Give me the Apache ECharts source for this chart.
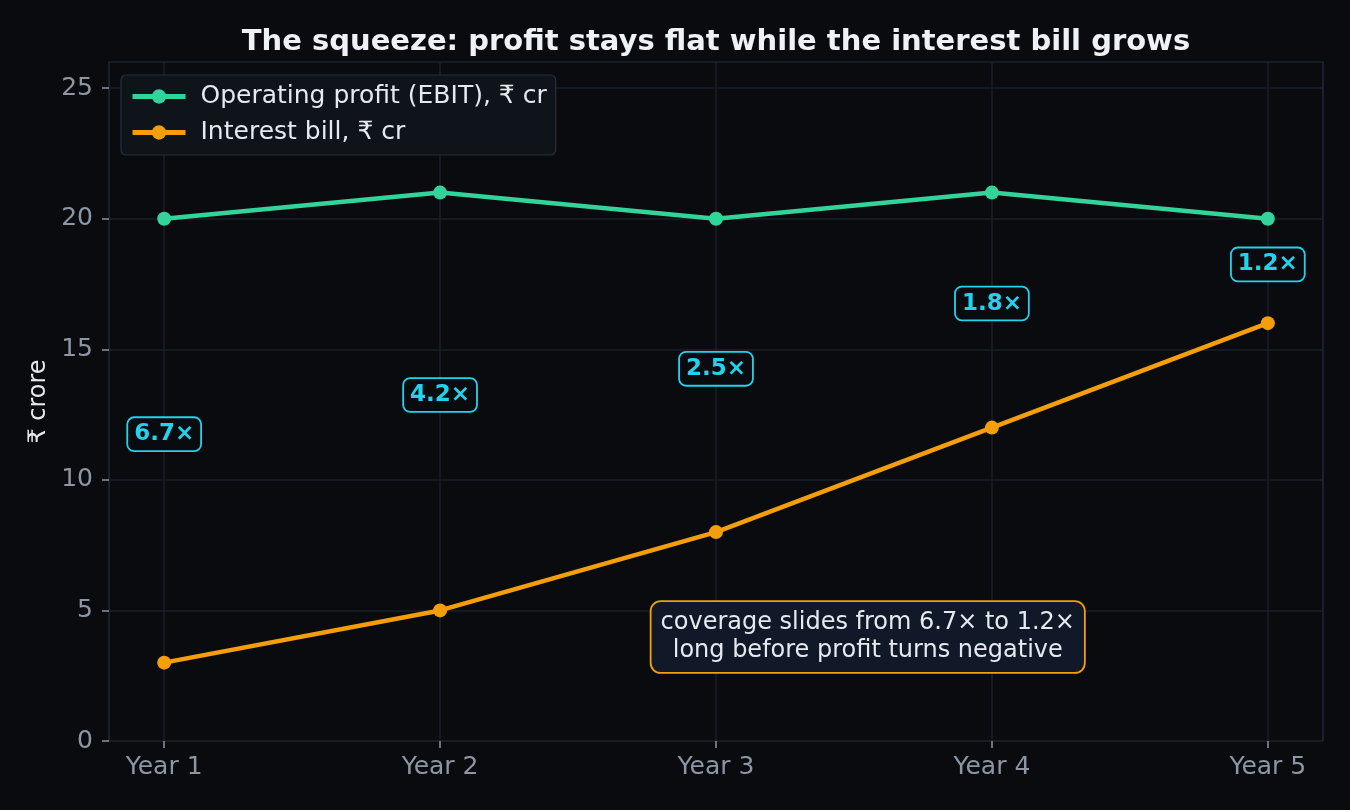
<!DOCTYPE html>
<html>
<head>
<meta charset="utf-8">
<script src="https://cdn.jsdelivr.net/npm/echarts@6/dist/echarts.min.js"></script>
<style>
  html, body { margin: 0; padding: 0; background: #0a0b0f; }
  #chart { width: 1350px; height: 810px; }
</style>
</head>
<body>
<div id="chart"></div>
<script>
// data
const years = [1, 2, 3, 4, 5];
const yearLabels = ['Year 1', 'Year 2', 'Year 3', 'Year 4', 'Year 5'];
const yTicks = [0, 5, 10, 15, 20, 25];
const ebit = [20, 21, 20, 21, 20];
const interest = [3, 5, 8, 12, 16];
const coverageLabels = ['6.7×', '4.2×', '2.5×', '1.8×', '1.2×'];
const noteText = 'coverage slides from 6.7× to 1.2×\nlong before profit turns negative';
const notePos = [3.55, 3.98];

const font = 'DejaVu Sans';
const chart = echarts.init(document.getElementById('chart'));

// coverage badges sit halfway between the two lines
let badgeData = years.map((x, i) => [x, (ebit[i] + interest[i]) / 2 + 0.25, coverageLabels[i]]);

let option = {
  backgroundColor: '#0a0b0f',
  animation: false,
  title: {
    text: 'The squeeze: profit stays flat while the interest bill grows',
    left: 716,
    textAlign: 'center',
    top: 28,
    padding: 0,
    textStyle: { color: '#eef2f7', fontFamily: font, fontSize: 29, fontWeight: 'bold' }
  },
  grid: {
    left: 109, right: 27, top: 62, bottom: 69,
    show: true,
    backgroundColor: '#0a0b0f',
    borderColor: '#253040',
    borderWidth: 1.2
  },
  legend: {
    data: ['Operating profit (EBIT), ₹ cr', 'Interest bill, ₹ cr'],
    orient: 'vertical',
    left: 121, top: 75,
    z: 20,
    padding: [9, 9, 10, 9],
    itemGap: 11,
    itemWidth: 53,
    itemHeight: 18,
    backgroundColor: '#0f131a',
    borderColor: '#253040',
    borderWidth: 1.2,
    borderRadius: 5,
    lineStyle: { width: 5 },
    textStyle: { color: '#e5e9f0', fontFamily: font, fontSize: 25, padding: [0, 0, 0, 10] }
  },
  xAxis: {
    type: 'value',
    min: 0.8, max: 5.2,
    axisLine: { show: false },
    axisTick: { show: true, customValues: years, length: 7, lineStyle: { color: '#8c96a5', width: 1.5 } },
    axisLabel: {
      customValues: years,
      formatter: v => yearLabels[years.indexOf(v)] || '',
      color: '#8c96a5', fontFamily: font, fontSize: 25, margin: 14
    },
    splitLine: { show: false }
  },
  yAxis: {
    type: 'value',
    min: 0, max: 26,
    name: '₹ crore',
    nameLocation: 'middle',
    nameGap: 57,
    nameRotate: 90,
    nameTextStyle: { color: '#e5e9f0', fontFamily: font, fontSize: 24 },
    axisLine: { show: false },
    axisTick: { show: true, customValues: yTicks, length: 7, lineStyle: { color: '#8c96a5', width: 1.5 } },
    axisLabel: {
      customValues: yTicks,
      color: '#8c96a5', fontFamily: font, fontSize: 25, margin: 16
    },
    splitLine: { show: false }
  },
  series: [
    {
      // grid lines only, kept under everything else
      name: 'gridlines',
      type: 'line',
      data: [],
      z: 1,
      markLine: {
        silent: true, symbol: 'none', label: { show: false }, z: 1,
        lineStyle: { color: '#1a1f28', width: 1.5, type: 'solid' },
        data: years.map(x => ({ xAxis: x })).concat(yTicks.slice(1).map(y => ({ yAxis: y })))
      }
    },
    {
      name: 'Operating profit (EBIT), ₹ cr',
      type: 'line',
      data: years.map((x, i) => [x, ebit[i]]),
      color: '#34d399',
      lineStyle: { width: 4.5 },
      symbol: 'circle', symbolSize: 14,
      itemStyle: { color: '#34d399', borderWidth: 0 },
      z: 3
    },
    {
      name: 'Interest bill, ₹ cr',
      type: 'line',
      data: years.map((x, i) => [x, interest[i]]),
      color: '#f59e0b',
      lineStyle: { width: 4.5 },
      symbol: 'circle', symbolSize: 14,
      itemStyle: { color: '#f59e0b', borderWidth: 0 },
      z: 3
    },
    {
      name: 'coverage',
      type: 'scatter',
      data: badgeData,
      symbolSize: 0,
      itemStyle: { opacity: 1 },
      z: 5,
      label: {
        show: true,
        position: 'inside',
        formatter: p => p.data[2],
        color: '#22d3ee',
        fontFamily: font, fontSize: 23, fontWeight: 'bold',
        backgroundColor: '#0a0b0f',
        borderColor: '#22d3ee', borderWidth: 1.8, borderRadius: 6,
        padding: [5, 6, 4, 6]
      }
    },
    {
      name: 'note',
      type: 'scatter',
      data: [[notePos[0], notePos[1]]],
      symbolSize: 0,
      itemStyle: { opacity: 1 },
      z: 5,
      label: {
        show: true,
        position: 'inside',
        formatter: noteText,
        color: '#e5e9f0',
        fontFamily: font, fontSize: 24, lineHeight: 28,
        align: 'center',
        backgroundColor: '#111827',
        borderColor: '#f59e0b', borderWidth: 1.8, borderRadius: 9,
        padding: [7, 9, 7, 9]
      }
    }
  ]
};

chart.setOption(option);
</script>
</body>
</html>
